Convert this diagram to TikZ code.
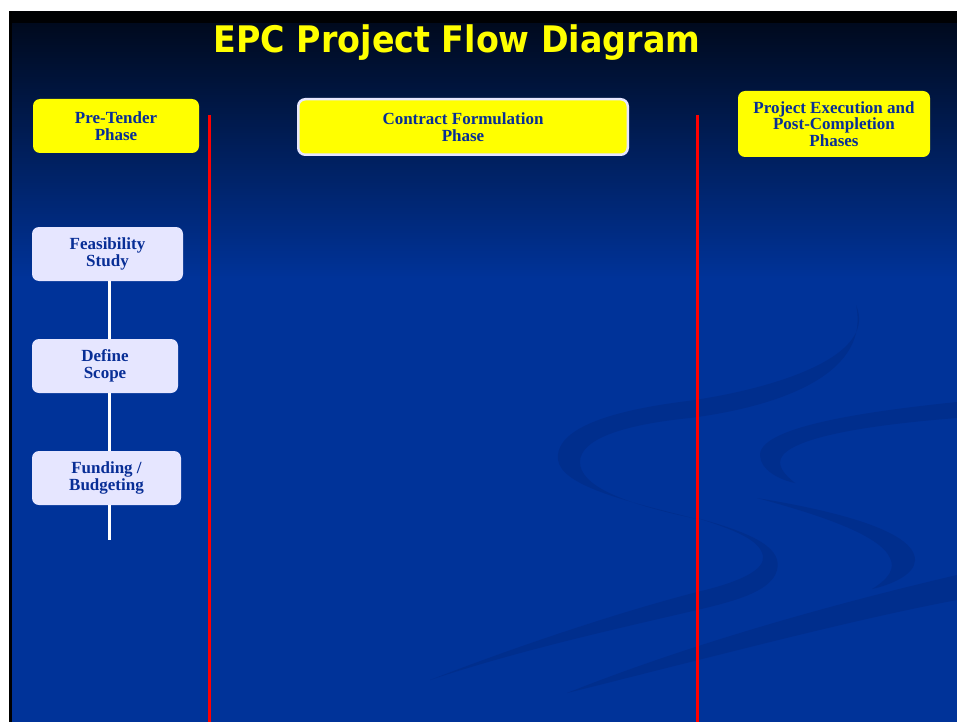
\documentclass[tikz,border=0pt]{standalone}
\usepackage{fontspec}
\setmainfont{Liberation Serif}
\newfontfamily\titlefont{DejaVu Sans}
\usepackage{tikz}
\definecolor{epcyellow}{RGB}{255,255,0}
\definecolor{epcblue}{RGB}{0,51,153}
\definecolor{epctext}{RGB}{8,46,150}
\definecolor{epcnavy}{RGB}{0,10,30}
\definecolor{epcswoosh}{RGB}{0,46,141}
\definecolor{epclavender}{RGB}{230,230,255}
\definecolor{epcred}{RGB}{255,0,0}
\tikzstyle{phase} = [rectangle, rounded corners=7pt, text centered, align=center, fill=epcyellow, text=epctext, inner sep=2pt, font=\fontsize{17}{16.5}\selectfont\bfseries]
\tikzstyle{stepbox} = [rectangle, rounded corners=7pt, text centered, align=center, fill=epclavender, text=epctext, minimum height=54pt, inner sep=2pt, font=\fontsize{17}{17.5}\selectfont\bfseries]
\tikzstyle{divider} = [line width=3pt, draw=epcred]
\tikzstyle{link} = [line width=3pt, draw=white]
\tikzstyle{swoosh} = [fill=epcswoosh, draw=none]

\begin{document}
\begin{tikzpicture}[x=1pt, y=-1pt, node distance=112pt]

\useasboundingbox (0,0) rectangle (957,722);

% slide background
\fill [white] (0,0) rectangle (957,722);
\fill [epcblue] (9,278) rectangle (957,722);
\shade [top color=epcnavy, bottom color=epcblue] (9,23) rectangle (957,279);
\fill [black!90!epcnavy] (9,11) rectangle (957,23);
\fill [black] (9,11) rectangle (12,722);

% faint swooshes
\fill [swoosh] (856,305) .. controls (880,360) and (760,392) .. (680,402) .. controls (590,414) and (555,435) .. (558,460) .. controls (562,485) and (620,500) .. (697,519)
  .. controls (620,503) and (580,485) .. (580,462) .. controls (580,440) and (620,425) .. (690,418) .. controls (790,405) and (870,370) .. (856,305) -- cycle;
\fill [swoosh] (697,518) .. controls (760,535) and (782,550) .. (777,570) .. controls (772,590) and (740,600) .. (697,610) .. controls (620,628) and (520,650) .. (430,680)
  .. controls (520,645) and (620,612) .. (697,592) .. controls (740,582) and (765,570) .. (763,556) .. controls (760,540) and (735,530) .. (697,518) -- cycle;
\fill [swoosh] (957,402) .. controls (880,410) and (760,425) .. (760,455) .. controls (760,470) and (780,480) .. (795,483)
  .. controls (785,475) and (775,465) .. (783,455) .. controls (800,435) and (880,424) .. (957,418) -- cycle;
\fill [swoosh] (757,498) .. controls (830,510) and (915,530) .. (915,560) .. controls (915,575) and (890,585) .. (872,589)
  .. controls (890,578) and (895,568) .. (890,558) .. controls (880,535) and (820,515) .. (757,498) -- cycle;
\fill [swoosh] (957,575) .. controls (850,600) and (700,640) .. (567,693) .. controls (700,660) and (850,620) .. (957,600) -- cycle;

\node (title) [anchor=base, text=epcyellow] at (457,53) {\scalebox{0.91}[1]{\titlefont\bfseries\fontsize{36.6}{40}\selectfont EPC Project Flow Diagram}};

\node (pretender) [phase, minimum width=166pt, minimum height=54pt] at (116,126) {Pre-Tender\\Phase};
\node (contract) [phase, draw=epclavender, line width=2.5pt, minimum width=329.5pt, minimum height=55.5pt] at (463,127) {Contract Formulation\\Phase};
\node (execution) [phase, minimum width=192pt, minimum height=66pt] at (834,124) {Project Execution and\\Post-Completion\\Phases};

\coordinate (sepleft) at (209,115);
\coordinate (sepright) at (697,115);
\coordinate (floor) at (0,722);
\draw [divider] (sepleft) -- (sepleft |- floor);
\draw [divider] (sepright) -- (sepright |- floor);

\node (feas) [stepbox, minimum width=151pt] at (107.5,254) {Feasibility\\Study};
\node (scope) [stepbox, below of=feas, xshift=-2.5pt, minimum width=146pt] {Define\\Scope};
\node (fund) [stepbox, below of=scope, xshift=1.5pt, minimum width=149pt] {Funding /\\Budgeting};

\coordinate (tail) at (109,540);
\draw [link] (feas.south -| tail) -- (scope.north -| tail);
\draw [link] (scope.south -| tail) -- (fund.north -| tail);
\draw [link] (fund.south -| tail) -- (tail);

\end{tikzpicture}
\end{document}
